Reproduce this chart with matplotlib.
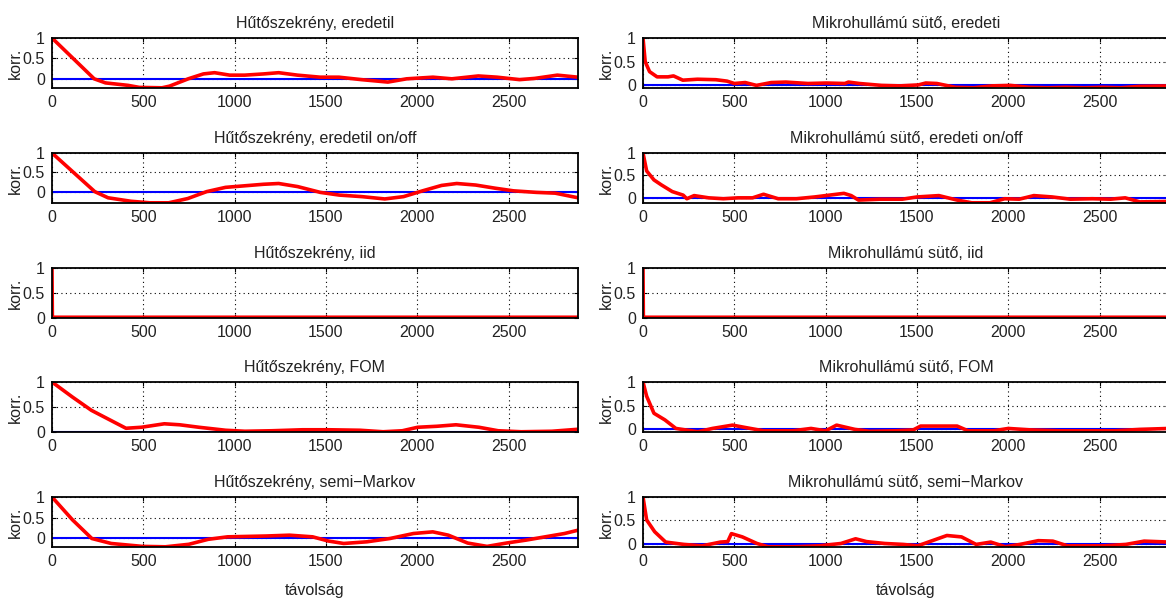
import matplotlib.pyplot as plt

plt.rcParams['font.family'] = ['Liberation Sans', 'DejaVu Sans']

# titles of the panels (left: fridge, right: microwave)
titles_left = ["Hűtőszekrény, eredetil", "Hűtőszekrény, eredetil on/off",
               "Hűtőszekrény, iid", "Hűtőszekrény, FOM", "Hűtőszekrény, semi\u2212Markov"]
titles_right = ["Mikrohullámú sütő, eredeti", "Mikrohullámú sütő, eredeti on/off",
                "Mikrohullámú sütő, iid", "Mikrohullámú sütő, FOM", "Mikrohullámú sütő, semi\u2212Markov"]

xticks = [0, 500, 1000, 1500, 2000, 2500]
yticks = [0, 0.5, 1]
ytick_labels = ["0", "0.5", "1"]
x_max = 2880

# --- Hűtőszekrény (fridge) autocorrelations ---
fr_orig_lag = [0, 231, 293, 416, 478, 602, 643, 746, 829, 890, 973, 1055, 1159, 1241, 1344,
               1468, 1571, 1694, 1839, 1942, 2086, 2189, 2334, 2437, 2560, 2643, 2767, 2880]
fr_orig_val = [1.0, 0.0, -0.1, -0.16, -0.21, -0.22, -0.18, 0.0, 0.12, 0.15, 0.09, 0.09, 0.12, 0.15,
               0.09, 0.04, 0.04, -0.02, -0.08, 0.0, 0.04, 0.0, 0.07, 0.04, -0.02, 0.01, 0.09, 0.04]

fr_onoff_lag = [0, 234, 307, 432, 535, 639, 743, 847, 950, 1054, 1158, 1241, 1345, 1469, 1573,
                1697, 1822, 1925, 2029, 2133, 2216, 2320, 2424, 2527, 2652, 2755, 2880]
fr_onoff_val = [1.0, 0.0, -0.16, -0.25, -0.29, -0.29, -0.18, 0.0, 0.11, 0.15, 0.19, 0.21, 0.13,
                -0.02, -0.09, -0.13, -0.19, -0.13, 0.02, 0.16, 0.21, 0.17, 0.09, 0.02, -0.02,
                -0.04, -0.16]

fr_iid_lag = [0, 2, 2880]
fr_iid_val = [1.0, 0.01, 0.01]

fr_fom_lag = [0, 111, 216, 321, 405, 489, 615, 699, 805, 951, 1056, 1203, 1371, 1518, 1687,
              1813, 1918, 2002, 2107, 2212, 2338, 2443, 2569, 2737, 2880]
fr_fom_val = [1.0, 0.70, 0.43, 0.23, 0.07, 0.09, 0.16, 0.14, 0.09, 0.03, 0.01, 0.02, 0.04, 0.04,
              0.03, 0.0, 0.02, 0.09, 0.11, 0.14, 0.09, 0.02, 0.0, 0.01, 0.05]

fr_sm_lag = [0, 112, 218, 324, 494, 621, 749, 855, 961, 1173, 1300, 1427, 1512, 1597, 1724,
             1851, 1979, 2085, 2170, 2276, 2382, 2488, 2594, 2700, 2806, 2880]
fr_sm_val = [1.0, 0.45, 0.0, -0.12, -0.19, -0.2, -0.14, -0.02, 0.04, 0.06, 0.08, 0.04, -0.06,
             -0.12, -0.08, 0.0, 0.12, 0.16, 0.08, -0.11, -0.19, -0.11, -0.04, 0.04, 0.12, 0.2]

# --- Mikrohullámú sütő (microwave) autocorrelations ---
mw_orig_lag = [0, 12, 36, 77, 137, 167, 218, 298, 399, 460, 500, 560, 621, 702, 782, 903, 1004,
               1105, 1125, 1185, 1306, 1407, 1508, 1548, 1609, 1710, 1810, 1911, 2012, 2113,
               2214, 2315, 2415, 2516, 2617, 2718, 2880]
mw_orig_val = [1.0, 0.5, 0.29, 0.18, 0.18, 0.2, 0.11, 0.13, 0.12, 0.09, 0.04, 0.06, 0.0, 0.06,
               0.07, 0.04, 0.05, 0.04, 0.07, 0.04, 0.0, -0.01, 0.01, 0.05, 0.04, -0.04, -0.05,
               -0.01, 0.0, -0.04, -0.05, -0.04, -0.05, -0.04, -0.05, -0.02, -0.01]

mw_onoff_lag = [0, 20, 60, 100, 160, 220, 240, 280, 360, 440, 520, 600, 660, 740, 840, 940,
                1020, 1100, 1140, 1180, 1300, 1420, 1500, 1620, 1720, 1800, 1900, 1980, 2060,
                2140, 2240, 2340, 2460, 2560, 2640, 2720, 2880]
mw_onoff_val = [1.0, 0.6, 0.4, 0.29, 0.14, 0.06, -0.02, 0.05, 0.0, -0.02, 0.0, 0.0, 0.08, -0.02,
                -0.02, 0.02, 0.06, 0.1, 0.05, -0.05, -0.03, -0.03, 0.02, 0.05, -0.05, -0.11,
                -0.11, -0.02, -0.03, 0.05, 0.02, -0.03, -0.02, -0.03, 0.0, -0.09, -0.08]

mw_iid_lag = [0, 2, 2880]
mw_iid_val = [1.0, 0.01, 0.01]

mw_fom_lag = [0, 20, 60, 120, 180, 300, 380, 490, 560, 660, 820, 920, 1000, 1060, 1160, 1240,
              1380, 1480, 1520, 1620, 1720, 1780, 1920, 2000, 2120, 2280, 2420, 2580, 2720, 2880]
mw_fom_val = [1.0, 0.7, 0.34, 0.2, 0.02, -0.05, 0.02, 0.09, 0.04, -0.03, -0.03, 0.02, -0.03,
              0.09, 0.0, -0.04, -0.03, -0.01, 0.07, 0.07, 0.07, -0.03, -0.03, 0.02, -0.01, -0.03,
              -0.03, -0.03, 0.0, 0.02]

mw_sm_lag = [0, 20, 64, 124, 224, 324, 424, 464, 484, 544, 624, 684, 824, 964, 1084, 1164,
             1224, 1324, 1424, 1504, 1584, 1664, 1744, 1824, 1904, 1984, 2064, 2164, 2244,
             2324, 2524, 2644, 2744, 2880]
mw_sm_val = [1.0, 0.51, 0.26, 0.04, -0.01, -0.04, 0.04, 0.05, 0.22, 0.15, 0.01, -0.06, -0.06,
             -0.04, 0.01, 0.11, 0.05, 0.01, -0.01, -0.04, 0.07, 0.18, 0.15, -0.01, 0.04, -0.06,
             -0.01, 0.07, 0.06, -0.04, -0.04, -0.01, 0.06, 0.04]

left_series = [(fr_orig_lag, fr_orig_val), (fr_onoff_lag, fr_onoff_val), (fr_iid_lag, fr_iid_val),
               (fr_fom_lag, fr_fom_val), (fr_sm_lag, fr_sm_val)]
right_series = [(mw_orig_lag, mw_orig_val), (mw_onoff_lag, mw_onoff_val), (mw_iid_lag, mw_iid_val),
                (mw_fom_lag, mw_fom_val), (mw_sm_lag, mw_sm_val)]

W, H = 1166, 600
fig = plt.figure(figsize=(W / 100, H / 100), dpi=100)

row_tops = [38, 153, 268, 382, 497]
ax_h = 50
col_lefts = [52, 643]
ax_w = 526


def draw(ax, lag, val, title, last):
    ax.plot([0, x_max], [0, 0], color=(0, 0, 1), lw=1.5)
    ax.plot(lag, val, color=(1, 0, 0), lw=2.6, solid_joinstyle='round')
    ax.set_xlim(0, x_max)
    ax.set_ylim(min(min(val), 0) - 0.005, 1)
    ax.set_xticks(xticks)
    ax.set_yticks(yticks)
    ax.set_yticklabels(ytick_labels)
    ax.grid(True, color='black', linestyle=(0, (1, 3)), lw=0.8)
    ax.tick_params(direction='in', length=3, top=True, right=True, labelsize=11.5, pad=5,
                   labelcolor='#222222')
    for s in ax.spines.values():
        s.set_linewidth(1.3)
    ax.set_title(title, fontsize=11.5, pad=7, color='#222222')
    ax.set_ylabel("korr.", fontsize=11.5, labelpad=0, color='#222222')
    if last:
        ax.set_xlabel("távolság", fontsize=11.5, labelpad=10, color='#222222')


for col, (titles, series) in enumerate([(titles_left, left_series), (titles_right, right_series)]):
    for row in range(5):
        ax = fig.add_axes([col_lefts[col] / W, (H - row_tops[row] - ax_h) / H, ax_w / W, ax_h / H])
        lag, val = series[row]
        draw(ax, lag, val, titles[row], row == 4)

fig.savefig("out.png", dpi=100)
